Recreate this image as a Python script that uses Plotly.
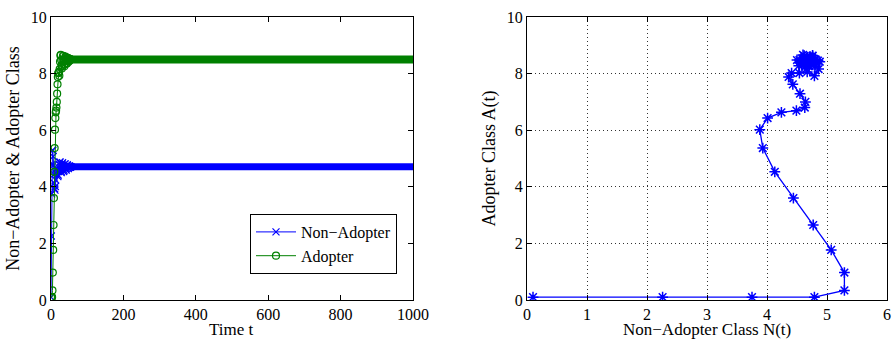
import plotly.graph_objects as go

# Iteration index of the early (transient) part of the simulation
t_transient = [0, 1, 2, 3, 4, 5, 6, 7, 8, 9, 10, 11, 12, 13, 14, 15, 16, 17, 18, 19,
               20, 21, 22, 23, 24, 25, 26, 27, 28, 29, 30, 31, 32, 33, 34, 35, 36, 37,
               38, 39, 40, 41, 42, 43, 44, 45, 46, 47, 48, 49, 50, 51, 52, 53, 54, 55]

# Non-adopter class N(t) during the transient
non_adopter = [0.10, 2.26, 3.75, 4.79, 5.29, 5.29, 5.07, 4.77, 4.44, 4.13, 3.93, 3.88,
               4.01, 4.24, 4.49, 4.63, 4.64, 4.55, 4.43, 4.36, 4.41, 4.54, 4.67, 4.79,
               4.86, 4.88, 4.76, 4.60, 4.50, 4.53, 4.66, 4.80, 4.85, 4.76, 4.62, 4.54,
               4.58, 4.70, 4.80, 4.81, 4.72, 4.62, 4.59, 4.65, 4.74, 4.78, 4.74, 4.66,
               4.64, 4.69, 4.74, 4.73, 4.69, 4.69, 4.71, 4.71]

# Adopter class A(t) during the transient
adopter = [0.10, 0.10, 0.10, 0.10, 0.34, 0.97, 1.77, 2.65, 3.60, 4.53, 5.37, 6.02,
           6.43, 6.63, 6.69, 6.80, 7.00, 7.29, 7.62, 7.88, 8.02, 8.02, 8.06, 7.92,
           8.16, 8.42, 8.64, 8.66, 8.48, 8.28, 8.18, 8.26, 8.46, 8.62, 8.63, 8.48,
           8.32, 8.26, 8.34, 8.50, 8.60, 8.57, 8.45, 8.36, 8.36, 8.46, 8.56, 8.55,
           8.47, 8.42, 8.45, 8.52, 8.52, 8.48, 8.49, 8.50]

# Equilibrium part of the run (values settle and stay put)
t_steady = [55, 100, 200, 300, 400, 500, 600, 700, 800, 900, 1000]
non_adopter_steady = [4.71, 4.71, 4.71, 4.71, 4.71, 4.71, 4.71, 4.71, 4.71, 4.71, 4.71]
adopter_steady = [8.50, 8.50, 8.50, 8.50, 8.50, 8.50, 8.50, 8.50, 8.50, 8.50, 8.50]

BLUE = "rgb(0,0,255)"
GREEN = "rgb(0,128,0)"
FONT = "Liberation Serif"

fig = go.Figure()

# ---- left panel: time series ----
# dense markers at equilibrium render as a solid band
fig.add_trace(go.Scatter(x=t_steady, y=non_adopter_steady, mode="lines",
                         line=dict(color=BLUE, width=7), showlegend=False,
                         hoverinfo="skip", xaxis="x", yaxis="y"))
fig.add_trace(go.Scatter(x=t_transient, y=non_adopter, mode="lines+markers",
                         name="Non\u2212Adopter",
                         line=dict(color=BLUE, width=1),
                         marker=dict(symbol="x-thin-open", size=7,
                                     line=dict(color=BLUE, width=1.2)),
                         xaxis="x", yaxis="y"))
fig.add_trace(go.Scatter(x=t_steady, y=adopter_steady, mode="lines",
                         line=dict(color=GREEN, width=8), showlegend=False,
                         hoverinfo="skip", xaxis="x", yaxis="y"))
fig.add_trace(go.Scatter(x=t_transient, y=adopter, mode="lines+markers",
                         name="Adopter",
                         line=dict(color=GREEN, width=1),
                         marker=dict(symbol="circle-open", size=7,
                                     line=dict(color=GREEN, width=1.2)),
                         xaxis="x", yaxis="y"))

# ---- right panel: phase portrait ----
fig.add_trace(go.Scatter(x=non_adopter, y=adopter, mode="lines+markers",
                         showlegend=False,
                         line=dict(color=BLUE, width=1.3),
                         marker=dict(symbol="asterisk-open", size=9,
                                     line=dict(color=BLUE, width=1.5)),
                         xaxis="x2", yaxis="y2"))

W, H = 894, 340
left_px, right_px = (51, 413), (527, 887)
top_px, bottom_px = 17, 300
ydom = [(H - bottom_px) / H, (H - top_px) / H]

axis_common = dict(showline=True, linecolor="black", linewidth=1, mirror="ticks",
                   ticks="inside", ticklen=5, tickcolor="black", zeroline=False,
                   automargin=False,
                   tickfont=dict(family=FONT, size=16, color="black"),
                   title_font=dict(family=FONT, size=18, color="black"))

grid = dict(showgrid=True, gridcolor="#333", griddash="1px,3px", gridwidth=1)

xtitle_font = dict(family=FONT, size=17, color="black")

fig.update_layout(
    template="none",
    width=W, height=H,
    margin=dict(l=0, r=0, t=0, b=0),
    paper_bgcolor="white", plot_bgcolor="white",
    xaxis=dict(domain=[left_px[0] / W, left_px[1] / W], range=[0, 1000],
               tickvals=[0, 200, 400, 600, 800, 1000], showgrid=False,
               anchor="y", **axis_common),
    yaxis=dict(domain=ydom, range=[0, 10], tickvals=[0, 2, 4, 6, 8, 10],
               showgrid=False, anchor="x",
               title=dict(text="Non\u2212Adopter &amp; Adopter Class", standoff=6),
               **axis_common),
    xaxis2=dict(domain=[right_px[0] / W, right_px[1] / W], range=[0, 6],
                tickvals=[0, 1, 2, 3, 4, 5, 6], anchor="y2",
                **grid, **axis_common),
    yaxis2=dict(domain=ydom, range=[0, 10], tickvals=[0, 2, 4, 6, 8, 10],
                anchor="x2",
                title=dict(text="Adopter Class A(t)", standoff=6),
                **grid, **axis_common),
    annotations=[
        dict(text="Time t", xref="paper", yref="paper",
             x=(left_px[0] + left_px[1]) / 2 / W, y=0,
             xanchor="center", yanchor="bottom", showarrow=False,
             borderpad=0, font=xtitle_font),
        dict(text="Non\u2212Adopter Class N(t)", xref="paper", yref="paper",
             x=(right_px[0] + right_px[1]) / 2 / W, y=0,
             xanchor="center", yanchor="bottom", showarrow=False,
             borderpad=0, font=xtitle_font),
    ],
    legend=dict(x=397 / W, y=(H - 274) / H, xanchor="right", yanchor="bottom",
                bgcolor="white", bordercolor="black", borderwidth=1,
                font=dict(family=FONT, size=16, color="black"),
                tracegroupgap=0, itemwidth=40),
    showlegend=True,
)

fig.write_html("out.html")
